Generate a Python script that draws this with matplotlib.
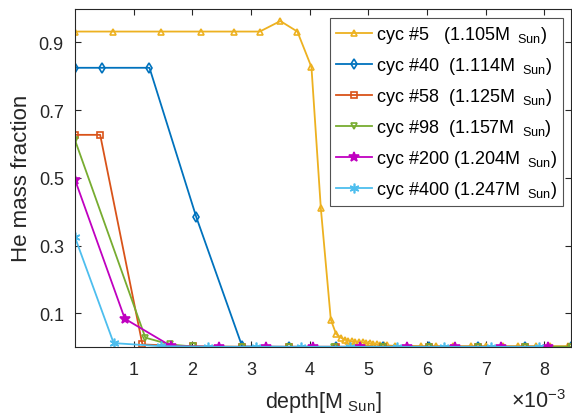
import matplotlib
matplotlib.use("Agg")
import matplotlib.pyplot as plt

plt.rcParams['font.family'] = ['Liberation Sans', 'DejaVu Sans']
plt.rcParams['mathtext.fontset'] = 'custom'
plt.rcParams['mathtext.rm'] = 'Liberation Sans'

# depth in units of 1e-3 Msun, He mass fraction
x5 = [0.0, 0.65, 1.46, 2.15, 2.71, 3.15, 3.50, 3.79, 4.03, 4.19, 4.36, 4.45, 4.54,
      4.60, 4.66, 4.72, 4.78, 4.84, 4.90, 4.96, 5.02, 5.08, 5.14, 5.20, 5.26, 5.32,
      5.45, 5.65, 5.90, 6.15, 6.45, 6.75, 7.00, 7.30, 7.55, 7.85, 8.10, 8.40]
y5 = [0.932, 0.932, 0.932, 0.932, 0.932, 0.932, 0.963, 0.932, 0.827, 0.41, 0.081, 0.039, 0.027,
      0.022, 0.019, 0.017, 0.016, 0.015, 0.014, 0.012, 0.011, 0.009, 0.008, 0.007, 0.006, 0.005,
      0.004, 0.004, 0.003, 0.003, 0.003, 0.003, 0.003, 0.003, 0.003, 0.003, 0.003, 0.003]

x40 = [0.0, 0.46, 1.27, 2.07, 2.85, 3.65, 4.45, 5.25, 6.04, 6.87, 7.67, 8.45]
y40 = [0.825, 0.825, 0.825, 0.383, 0.002, 0.001, 0.001, 0.001, 0.001, 0.001, 0.001, 0.001]

x58 = [0.0, 0.43, 1.15, 2.01, 2.85, 3.65, 4.45, 5.25, 6.04, 6.87, 7.67, 8.45]
y58 = [0.627, 0.627, 0.008, 0.002, 0.001, 0.001, 0.001, 0.001, 0.001, 0.001, 0.001, 0.001]

x98 = [0.0, 1.20, 1.62, 2.01, 2.85, 3.65, 4.42, 5.25, 6.04, 6.87, 7.67, 8.45]
y98 = [0.612, 0.028, 0.008, 0.002, 0.001, 0.001, 0.001, 0.001, 0.001, 0.001, 0.001, 0.001]

x200 = [0.0, 0.85, 1.64, 2.45, 3.25, 4.06, 4.86, 5.66, 6.47, 7.26, 8.06]
y200 = [0.495, 0.084, 0.003, 0.001, 0.001, 0.001, 0.001, 0.001, 0.001, 0.001, 0.001]

x400 = [0.0, 0.66, 1.46, 2.27, 3.08, 3.86, 4.68, 5.48, 6.28, 7.09, 7.90]
y400 = [0.325, 0.012, 0.003, 0.001, 0.001, 0.001, 0.001, 0.001, 0.001, 0.001, 0.001]

labels = [r'cyc #5   (1.105M$_{\ \ \mathrm{Sun}}$)',
          r'cyc #40  (1.114M$_{\ \ \mathrm{Sun}}$)',
          r'cyc #58  (1.125M$_{\ \ \mathrm{Sun}}$)',
          r'cyc #98  (1.157M$_{\ \ \mathrm{Sun}}$)',
          r'cyc #200 (1.204M$_{\ \ \mathrm{Sun}}$)',
          r'cyc #400 (1.247M$_{\ \ \mathrm{Sun}}$)']

fig = plt.figure(figsize=(5.72, 4.14), dpi=100)
ax = fig.add_axes([0.131, 0.159, 0.867, 0.818])

ms = 5
lw = 1.3
mew = 1.2
sc = 1e-3
ax.plot([v * sc for v in x5], y5, color='#EDB120', marker='^', ms=ms, mfc='none', mew=mew, lw=lw, label=labels[0])
ax.plot([v * sc for v in x40], y40, color='#0072BD', marker='d', ms=ms, mfc='none', mew=mew, lw=lw, label=labels[1])
ax.plot([v * sc for v in x58], y58, color='#D95319', marker='s', ms=ms - 0.5, mfc='none', mew=mew, lw=lw, label=labels[2])
ax.plot([v * sc for v in x98], y98, color='#77AC30', marker='v', ms=ms, mfc='none', mew=mew, lw=lw, label=labels[3])
ax.plot([v * sc for v in x200], y200, color='#C000C0', marker='*', ms=ms + 2.5, mew=mew, lw=lw, label=labels[4])
ax.plot([v * sc for v in x400], y400, color='#4DBEEE', marker=(6, 2, 0), ms=ms + 2, mew=mew, lw=lw, label=labels[5])

ax.set_xlim(0, 8.45e-3)
ax.set_ylim(0, 1.0)
ax.set_xticks([v * sc for v in [1, 2, 3, 4, 5, 6, 7, 8]])
ax.set_xticklabels(['1', '2', '3', '4', '5', '6', '7', '8'])
ax.set_yticks([0.1, 0.3, 0.5, 0.7, 0.9])
ax.set_yticklabels(['0.1', '0.3', '0.5', '0.7', '0.9'])
ax.tick_params(direction='in', top=True, right=True, labelsize=13, colors='#262626', length=4)
ax.tick_params(axis='x', pad=10)
ax.tick_params(axis='y', pad=8)
for s in ax.spines.values():
    s.set_color('#262626')
    s.set_linewidth(0.8)

ax.set_xlabel(r'depth[M$_{\ \mathrm{Sun}}$]', fontsize=15.5, color='#262626', labelpad=8)
ax.set_ylabel('He mass fraction', fontsize=16, color='#262626', labelpad=5)
ax.text(0.99, -0.125, r'$\times$10$^{-3}$', transform=ax.transAxes, ha='right', va='top',
        fontsize=15.5, color='#262626')

leg = ax.legend(loc='upper right', bbox_to_anchor=(0.985, 0.972), fontsize=13, frameon=True,
                fancybox=False, edgecolor='#262626', handlelength=2.0, handletextpad=0.2,
                labelspacing=0.55, borderpad=0.35, borderaxespad=0)
leg.get_frame().set_linewidth(0.8)

fig.savefig('out.png', dpi=100)
